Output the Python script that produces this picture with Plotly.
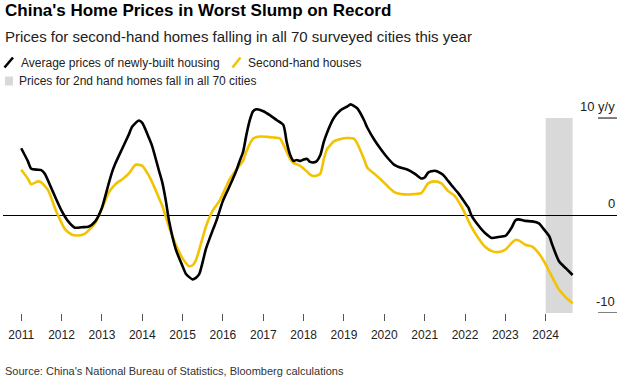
import plotly.graph_objects as go

# ---------------- data ----------------
black_dates = [
    "2011-01", "2011-03", "2011-04", "2011-06", "2011-07", "2011-08", "2011-10", "2011-11",
    "2012-01", "2012-03", "2012-05", "2012-07", "2012-09", "2012-11",
    "2013-01", "2013-03", "2013-04", "2013-05", "2013-07", "2013-09", "2013-10", "2013-12",
    "2014-01", "2014-03", "2014-04", "2014-06", "2014-07", "2014-08", "2014-09", "2014-11",
    "2015-01", "2015-02", "2015-04", "2015-05", "2015-06", "2015-08", "2015-10", "2015-11",
    "2016-01", "2016-03", "2016-05", "2016-06", "2016-07", "2016-08", "2016-09", "2016-10", "2016-11",
    "2017-01", "2017-03", "2017-05", "2017-07", "2017-08", "2017-09", "2017-10", "2017-11", "2017-12",
    "2018-01", "2018-02", "2018-03", "2018-04", "2018-05", "2018-06", "2018-07", "2018-08", "2018-10", "2018-12",
    "2019-02", "2019-03", "2019-05", "2019-07", "2019-08", "2019-10", "2019-12",
    "2020-02", "2020-04", "2020-06", "2020-08", "2020-10", "2020-12",
    "2021-01", "2021-02", "2021-04", "2021-06", "2021-07", "2021-09", "2021-11",
    "2022-01", "2022-02", "2022-03", "2022-05", "2022-07", "2022-09", "2022-11",
    "2023-01", "2023-03", "2023-04", "2023-05", "2023-07", "2023-09", "2023-11", "2023-12",
    "2024-02", "2024-03", "2024-05", "2024-07", "2024-09",
]
black_values = [
    6.9, 5.6, 4.8, 4.7, 4.65, 4.3, 2.8, 2.0,
    0.5, -0.6, -1.25, -1.2, -1.15, -0.6,
    0.8, 3.2, 4.4, 5.3, 6.8, 8.3, 9.1, 9.75,
    9.5, 8.0, 7.1, 4.6, 3.4, 1.6, -0.6, -3.5,
    -5.2, -6.0, -6.55, -6.4, -6.0, -3.4, -1.5, -0.6,
    1.5, 3.0, 4.6, 5.6, 6.5, 8.3, 9.8, 10.7, 10.9,
    10.7, 10.3, 9.8, 9.3, 7.5, 6.2, 5.6, 5.7, 5.6,
    5.75, 5.8, 5.5, 5.45, 5.6, 6.2, 7.5, 8.5, 10.0, 10.8,
    11.2, 11.4, 11.0, 9.8, 9.0, 7.8, 6.8,
    5.9, 5.2, 4.9, 4.7, 4.3, 3.8,
    3.9, 4.4, 4.6, 4.3, 4.0, 3.1, 2.3,
    1.3, 0.8, 0.0, -1.0, -1.8, -2.3, -2.2,
    -2.1, -1.2, -0.5, -0.4, -0.55, -0.6, -0.8, -1.2,
    -2.1, -3.0, -4.7, -5.4, -6.1,
]

yellow_dates = [
    "2011-01", "2011-03", "2011-04", "2011-06", "2011-07", "2011-09", "2011-11", "2011-12",
    "2012-02", "2012-04", "2012-06", "2012-08", "2012-10", "2012-11",
    "2013-01", "2013-03", "2013-05", "2013-07", "2013-09", "2013-11",
    "2014-01", "2014-03", "2014-04", "2014-06", "2014-07", "2014-09", "2014-11",
    "2015-01", "2015-03", "2015-04", "2015-05", "2015-07", "2015-08", "2015-10", "2015-12",
    "2016-02", "2016-03", "2016-05", "2016-07", "2016-08", "2016-10", "2016-12",
    "2017-02", "2017-04", "2017-06", "2017-07", "2017-09", "2017-10", "2017-12",
    "2018-02", "2018-03", "2018-04", "2018-05", "2018-06", "2018-07", "2018-08", "2018-10", "2018-12",
    "2019-02", "2019-04", "2019-05", "2019-07", "2019-08", "2019-10", "2019-12",
    "2020-02", "2020-04", "2020-06", "2020-08", "2020-10", "2020-12",
    "2021-02", "2021-04", "2021-06", "2021-08", "2021-10", "2021-12",
    "2022-01", "2022-03", "2022-05", "2022-07", "2022-09", "2022-11",
    "2023-01", "2023-03", "2023-04", "2023-05", "2023-07", "2023-09", "2023-11",
    "2024-01", "2024-02", "2024-04", "2024-05", "2024-07", "2024-09",
]
yellow_values = [
    4.7, 3.8, 3.2, 3.5, 3.4, 2.6, 0.8, 0.0,
    -1.4, -1.95, -2.05, -1.85, -1.2, -0.75,
    0.7, 2.3, 3.2, 3.7, 4.3, 5.2,
    5.1, 4.1, 3.4, 1.8, 1.0, -1.2, -3.0,
    -4.4, -5.2, -5.1, -4.6, -2.3, -1.1, 0.5, 1.5,
    3.0, 3.7, 4.7, 5.6, 6.6, 7.9, 8.1,
    8.07, 8.0, 7.9, 7.3, 5.8, 5.4, 5.1,
    4.5, 4.2, 4.05, 4.1, 4.3, 5.7, 6.8, 7.6, 7.85,
    7.95, 7.9, 7.4, 5.8, 4.9, 4.3, 3.7,
    3.0, 2.4, 2.2, 2.15, 2.2, 2.3,
    3.3, 3.5, 3.3, 2.5, 2.0, 0.9,
    0.2, -1.2, -2.3, -3.2, -3.65, -3.75,
    -3.5, -2.8, -2.5, -2.55, -3.0, -3.2, -3.9,
    -5.0, -5.7, -7.0, -7.6, -8.4, -9.0,
]

shade_start = "2024-01-01"
shade_end = "2024-09-01"
shade_low, shade_high = -10, 10

year_ticks = [str(y) for y in range(2011, 2025)]
y_ticks = [10, 0, -10]
y_tick_labels = ["10 y/y", "0", "-10"]

black_name = "Average prices of newly-built housing"
yellow_name = "Second-hand houses"
shade_name = "Prices for 2nd hand homes fall in all 70 cities"

# ---------------- styling ----------------
W, H = 621, 382
ML, MR, MT, MB = 3, 4, 100, 69
PW, PH = W - ML - MR, H - MT - MB
FONT = "Liberation Sans, Arial, Helvetica, sans-serif"
BLACK = "#000000"
YELLOW = "#f3c200"
GRAY = "#d9d9d9"


def xp(px):
    return (px - ML) / PW


def yp(py):
    return (H - MB - py) / PH


fig = go.Figure()
fig.add_trace(go.Scatter(x=yellow_dates, y=yellow_values, mode="lines",
                         line=dict(color=YELLOW, width=2.6, shape="spline", smoothing=0.6),
                         name=yellow_name, showlegend=False, hoverinfo="skip"))
fig.add_trace(go.Scatter(x=black_dates, y=black_values, mode="lines",
                         line=dict(color=BLACK, width=2.6, shape="spline", smoothing=0.6),
                         name=black_name, showlegend=False, hoverinfo="skip"))

shapes = [
    dict(type="rect", xref="x", yref="y", x0=shade_start, x1=shade_end,
         y0=shade_low, y1=shade_high, fillcolor=GRAY, line=dict(width=0), layer="below"),
]
annotations = []

# right-side tick segments and labels
for v, lab in zip(y_ticks, y_tick_labels):
    if v != 0:
        shapes.append(dict(type="line", xref="paper", yref="y", x0=xp(598), x1=1,
                           y0=v, y1=v, line=dict(color=BLACK, width=1)))
    annotations.append(dict(text=lab, xref="paper", yref="y", x=1, y=v, xanchor="right",
                            yanchor="middle", yshift=12, showarrow=False,
                            font=dict(family=FONT, size=13, color="#222")))

# title / subtitle / source
annotations.append(dict(text="<b>China's Home Prices in Worst Slump on Record</b>", xref="paper",
                        yref="paper", x=xp(3), y=yp(11), xanchor="left", yanchor="middle",
                        showarrow=False, font=dict(family=FONT, size=17, color="#000")))
annotations.append(dict(text="Prices for second-hand homes falling in all 70 surveyed cities this year",
                        xref="paper", yref="paper", x=xp(3), y=yp(37), xanchor="left",
                        yanchor="middle", showarrow=False,
                        font=dict(family=FONT, size=15, color="#222")))
annotations.append(dict(text="Source: China's National Bureau of Statistics, Bloomberg calculations",
                        xref="paper", yref="paper", x=xp(3), y=yp(371), xanchor="left",
                        yanchor="middle", showarrow=False,
                        font=dict(family=FONT, size=11, color="#333")))

# legend
shapes.append(dict(type="line", xref="paper", yref="paper", x0=xp(4.5), y0=yp(67.5),
                   x1=xp(13), y1=yp(57.5), line=dict(color=BLACK, width=2.6)))
shapes.append(dict(type="line", xref="paper", yref="paper", x0=xp(232.5), y0=yp(67.5),
                   x1=xp(240.5), y1=yp(57.5), line=dict(color=YELLOW, width=2.6)))
shapes.append(dict(type="rect", xref="paper", yref="paper", x0=xp(5), y0=yp(85.5),
                   x1=xp(13), y1=yp(76.5), fillcolor=GRAY, line=dict(width=0)))
annotations.append(dict(text=black_name, xref="paper", yref="paper", x=xp(19), y=yp(63),
                        xanchor="left", yanchor="middle", showarrow=False,
                        font=dict(family=FONT, size=12, color="#222")))
annotations.append(dict(text=yellow_name, xref="paper", yref="paper", x=xp(246), y=yp(63),
                        xanchor="left", yanchor="middle", showarrow=False,
                        font=dict(family=FONT, size=12, color="#222")))
annotations.append(dict(text=shade_name, xref="paper", yref="paper", x=xp(16.5), y=yp(81),
                        xanchor="left", yanchor="middle", showarrow=False,
                        font=dict(family=FONT, size=12, color="#222")))

fig.update_layout(
    width=W, height=H,
    margin=dict(l=ML, r=MR, t=MT, b=MB, pad=0),
    paper_bgcolor="white", plot_bgcolor="white",
    showlegend=False,
    shapes=shapes, annotations=annotations,
    xaxis=dict(type="date", range=["2010-07-20", "2025-10-08"],
               tickvals=[f"{y}-01-01" for y in year_ticks], ticktext=year_ticks,
               ticks="outside", ticklen=7, tickcolor="#555", tickwidth=1,
               ticklabelstandoff=4,
               showgrid=False, showline=False, zeroline=False,
               tickfont=dict(family=FONT, size=12, color="#222")),
    yaxis=dict(range=[-10, 11.85], showticklabels=False, showgrid=False,
               zeroline=True, zerolinecolor=BLACK, zerolinewidth=1, showline=False),
)

fig.write_html("out.html",
               config={"displayModeBar": False, "staticPlot": True},
               post_script="document.body.style.margin='0';document.body.style.padding='0';")
